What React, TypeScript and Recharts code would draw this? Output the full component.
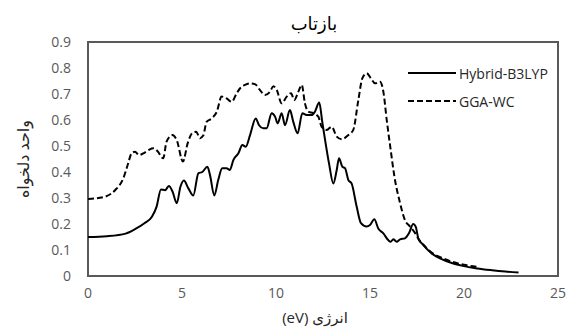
import { LineChart, Line, XAxis, YAxis } from 'recharts';

// Hybrid-B3LYP (solid line)
const HYB_X = [0, 1, 2, 2.5, 3, 3.4, 3.65, 3.88, 4.1, 4.3, 4.5, 4.72, 4.92, 5.1, 5.34, 5.6, 5.87, 6.08, 6.35, 6.49, 6.72, 6.93, 7.14, 7.37, 7.55, 7.73, 8.0, 8.21, 8.39, 8.62, 8.92, 9.1, 9.33, 9.5, 9.77, 9.95, 10.09, 10.3, 10.48, 10.74, 10.92, 11.15, 11.4, 11.63, 11.9, 12.07, 12.3, 12.46, 12.64, 12.82, 13.05, 13.23, 13.35, 13.53, 13.67, 13.85, 14.02, 14.29, 14.52, 14.82, 15.0, 15.23, 15.44, 15.71, 15.97, 16.1, 16.24, 16.42, 16.6, 16.86, 17.07, 17.3, 17.43, 17.57, 17.84, 18.28, 18.81, 19.35, 20, 20.7, 21.5, 22.2, 22.9];
const HYB_Y = [0.15, 0.153, 0.163, 0.18, 0.203, 0.228, 0.267, 0.333, 0.33, 0.346, 0.324, 0.28, 0.344, 0.367, 0.337, 0.31, 0.395, 0.4, 0.42, 0.388, 0.31, 0.37, 0.414, 0.414, 0.408, 0.446, 0.472, 0.504, 0.497, 0.542, 0.606, 0.58, 0.568, 0.568, 0.626, 0.613, 0.587, 0.626, 0.58, 0.638, 0.593, 0.549, 0.626, 0.619, 0.619, 0.632, 0.667, 0.593, 0.51, 0.433, 0.356, 0.408, 0.453, 0.42, 0.415, 0.369, 0.356, 0.267, 0.203, 0.19, 0.196, 0.218, 0.183, 0.164, 0.138, 0.132, 0.141, 0.132, 0.141, 0.145, 0.164, 0.2, 0.19, 0.145, 0.119, 0.087, 0.065, 0.05, 0.038, 0.029, 0.022, 0.017, 0.013];

// GGA-WC (dashed line)
const GGA_X = [0, 0.9, 1.44, 1.88, 2.11, 2.32, 2.5, 2.71, 3.0, 3.24, 3.48, 3.7, 4.0, 4.18, 4.49, 4.72, 5.05, 5.3, 5.55, 5.75, 5.96, 6.13, 6.31, 6.58, 6.85, 7.11, 7.37, 7.64, 7.91, 8.09, 8.35, 8.62, 8.88, 9.15, 9.41, 9.68, 9.86, 10.04, 10.3, 10.57, 10.8, 10.97, 11.19, 11.37, 11.54, 11.72, 11.98, 12.25, 12.43, 12.7, 12.96, 13.23, 13.49, 13.85, 14.11, 14.38, 14.59, 14.82, 15.05, 15.27, 15.53, 15.71, 15.89, 16.1, 16.3, 16.6, 16.86, 17.13, 17.4, 17.6, 17.84, 18.28, 18.81, 19.35, 20, 20.7];
const GGA_Y = [0.296, 0.305, 0.33, 0.376, 0.427, 0.472, 0.478, 0.465, 0.474, 0.485, 0.491, 0.48, 0.453, 0.517, 0.542, 0.523, 0.44, 0.51, 0.55, 0.555, 0.53, 0.54, 0.593, 0.606, 0.632, 0.69, 0.683, 0.67, 0.703, 0.722, 0.735, 0.741, 0.738, 0.715, 0.696, 0.709, 0.73, 0.715, 0.664, 0.69, 0.703, 0.677, 0.709, 0.735, 0.664, 0.632, 0.626, 0.613, 0.574, 0.562, 0.574, 0.536, 0.526, 0.542, 0.562, 0.677, 0.76, 0.78, 0.76, 0.741, 0.747, 0.709, 0.6, 0.485, 0.382, 0.28, 0.215, 0.19, 0.165, 0.14, 0.12, 0.09, 0.07, 0.055, 0.043, 0.035];

const X_TICKS = [0, 5, 10, 15, 20, 25];
const Y_TICKS = [0, 0.1, 0.2, 0.3, 0.4, 0.5, 0.6, 0.7, 0.8, 0.9];

const TITLE = 'بازتاب';
const Y_LABEL = 'واحد دلخواه';
const X_LABEL = '(eV)  انرژی';
const HYB_NAME = 'Hybrid-B3LYP';
const GGA_NAME = 'GGA-WC';

const hybridData = HYB_X.map((x, i) => ({ x, y: HYB_Y[i] }));
const ggaData = GGA_X.map((x, i) => ({ x, y: GGA_Y[i] }));

const FONT = "'Open Sans', 'DejaVu Sans', sans-serif";
const GRAY = '#595959';

// chart box
const W = 571;
const H = 334;
const MARGIN = { top: 42, right: 13, left: 28, bottom: 28 };
const Y_AXIS_W = 60;
const X_AXIS_H = 30;

const LegendBox = () => (
  <div
    style={{
      position: 'absolute', left: 406, top: 59, width: 160,
      fontFamily: FONT, fontSize: 14, color: '#262626',
    }}
  >
    {[{ name: HYB_NAME, dash: undefined }, { name: GGA_NAME, dash: '6 3' }].map((it) => (
      <div key={it.name} style={{ display: 'flex', alignItems: 'center', height: 28 }}>
        <svg width={50} height={10} style={{ marginRight: 3 }}>
          <line x1={2} y1={5} x2={50} y2={5} stroke="#000" strokeWidth={2} strokeDasharray={it.dash} />
        </svg>
        <span>{it.name}</span>
      </div>
    ))}
  </div>
);

const App = () => {
  const plotLeft = MARGIN.left + Y_AXIS_W;
  const plotW = W - plotLeft - MARGIN.right;
  const plotH = H - MARGIN.top - MARGIN.bottom - X_AXIS_H;
  return (
    <div style={{ position: 'absolute', left: 0, top: 0, width: W, height: H, background: '#fff' }}>
      {/* plot frame, behind the chart svg */}
      <div
        style={{
          position: 'absolute',
          left: plotLeft - 1,
          top: MARGIN.top - 1,
          width: plotW + 2,
          height: plotH + 2,
          border: `2px solid ${GRAY}`,
          boxSizing: 'border-box',
        }}
      />
      <div
        style={{
          position: 'absolute', left: 264, top: 11, width: 100, textAlign: 'center',
          fontFamily: FONT, fontSize: 18, color: '#000', lineHeight: '24px',
        }}
      >
        {TITLE}
      </div>
      <div style={{ position: 'absolute', left: 0, top: 0, width: W, height: H }}>
        <LineChart width={W} height={H} margin={MARGIN}>
          <XAxis
            type="number"
            dataKey="x"
            domain={[0, 25]}
            ticks={X_TICKS}
            axisLine={false}
            tickLine={false}
            tickSize={0}
            tickMargin={12}
            height={X_AXIS_H}
            tick={{ fill: GRAY, fontSize: 14, fontFamily: FONT }}
            allowDuplicatedCategory={false}
            label={{ value: X_LABEL, position: 'bottom', offset: 6, dx: -8, fill: '#262626', fontSize: 15, fontFamily: FONT }}
          />
          <YAxis
            type="number"
            domain={[0, 0.9]}
            ticks={Y_TICKS}
            axisLine={false}
            tickLine={false}
            tickSize={0}
            tickMargin={17}
            width={Y_AXIS_W}
            tickFormatter={(v: number) => (v === 0 ? '0' : v.toFixed(1))}
            tick={{ fill: GRAY, fontSize: 14, fontFamily: FONT }}
            label={{
              content: ({ viewBox }: any) => (
                <text
                  x={viewBox.x - 5}
                  y={viewBox.y + viewBox.height / 2}
                  transform={`rotate(-90, ${viewBox.x - 5}, ${viewBox.y + viewBox.height / 2})`}
                  textAnchor="middle"
                  dominantBaseline="central"
                  fill="#262626"
                  fontSize={16}
                  fontFamily={FONT}
                >
                  {Y_LABEL}
                </text>
              ),
            }}
          />
          <Line
            data={hybridData}
            dataKey="y"
            name={HYB_NAME}
            type="monotone"
            stroke="#000"
            strokeWidth={2}
            dot={false}
            isAnimationActive={false}
          />
          <Line
            data={ggaData}
            dataKey="y"
            name={GGA_NAME}
            type="monotone"
            stroke="#000"
            strokeWidth={2}
            strokeDasharray="6 3"
            dot={false}
            isAnimationActive={false}
          />
        </LineChart>
      </div>
      <LegendBox />
    </div>
  );
};

export default App;
